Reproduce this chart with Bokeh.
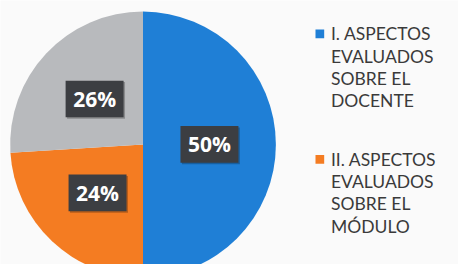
import numpy as np
from bokeh.plotting import figure
from bokeh.models import Range1d, ColumnDataSource
from bokeh.core.properties import value
from bokeh.embed import file_html
from bokeh.resources import INLINE

# ---- data ----
categories = ["I. ASPECTOS EVALUADOS SOBRE EL DOCENTE",
              "II. ASPECTOS EVALUADOS SOBRE EL MÓDULO",
              "III."]
shares = [50, 24, 26]
pct_labels = ["50%", "24%", "26%"]
colors = ["#1f7fd6", "#f47c22", "#b8babd"]
legend_lines = [["I. ASPECTOS", "EVALUADOS", "SOBRE EL", "DOCENTE"],
                ["II. ASPECTOS", "EVALUADOS", "SOBRE EL", "MÓDULO"]]

W, H = 458, 264
k = W / 474.0
p = figure(width=W, height=H, output_backend="svg", toolbar_location=None,
           x_range=Range1d(0, 474), y_range=Range1d(280 - H / k, 280),
           min_border=0, background_fill_color="#fafafa", border_fill_color="#fafafa")
p.axis.visible = False
p.grid.visible = False
p.outline_line_color = None

cx, cy, r = 147.5, 280 - 149.0, 137.5
frac = np.array(shares, dtype=float) / sum(shares)
ends = np.pi / 2 - 2 * np.pi * np.cumsum(frac)
starts = np.concatenate([[np.pi / 2], ends[:-1]])
mids = (starts + ends) / 2

src = ColumnDataSource(dict(start=starts, end=ends, color=colors))
p.wedge(x=cx, y=cy, radius=r, start_angle="start", end_angle="end",
        direction="clock", fill_color="color", line_color=None, source=src)

lr = 0.50 * r
lx = cx + lr * np.cos(mids)
ly = cy + lr * np.sin(mids)
p.rect(x=lx + 1.5, y=ly - 1.5, width=60, height=38, fill_color="#000000",
       fill_alpha=0.25, line_color=None)
p.rect(x=lx, y=ly, width=60, height=38, fill_color="#3c3e42", line_color=None)
p.text(x=lx, y=ly, text=pct_labels, text_color="white", text_font=value("Open Sans"),
       text_font_style="bold", text_font_size="21px", text_align="center",
       text_baseline="middle")

# ---- legend ----
sq_x, txt_x = 330.5, 342
item_top = [280 - 34.5, 280 - 164.5]
pitch = 23.0
for i, lines in enumerate(legend_lines):
    p.rect(x=sq_x, y=item_top[i], width=9, height=9, fill_color=colors[i], line_color=None)
    ys = [item_top[i] - j * pitch for j in range(len(lines))]
    p.text(x=[txt_x] * len(lines), y=ys, text=lines, text_color="#3a3a3a",
           text_font=value("Lato"), text_font_size="17.5px",
           text_align="left", text_baseline="middle")

open("out.html", "w").write(file_html(p, INLINE))
